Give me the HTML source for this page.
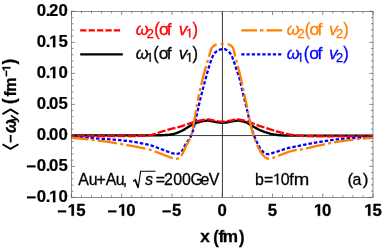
<!DOCTYPE html>
<html><head><meta charset="utf-8"><title>plot</title>
<style>
html,body{margin:0;padding:0;background:#fff;}
svg{display:block;font-family:"Liberation Sans", sans-serif;will-change:transform;}
text{font-family:"Liberation Sans", sans-serif;}
</style></head><body>
<svg width="382" height="248" viewBox="0 0 382 248">
<rect width="382" height="248" fill="#fff"/>
<clipPath id="c"><rect x="71.4" y="11.35" width="301.6" height="186.05"/></clipPath>
<g stroke="#222" stroke-width="0.9" fill="none">
<line x1="222.45" y1="11.35" x2="222.45" y2="197.4"/>
<line x1="71.4" y1="135.55" x2="373.0" y2="135.55"/>
</g>
<g clip-path="url(#c)" fill="none" stroke-width="2.3" stroke-linejoin="round">
<path d="M71.40,135.38 L72.66,135.38 L73.91,135.38 L75.17,135.38 L76.43,135.38 L77.68,135.38 L78.94,135.38 L80.20,135.38 L81.45,135.38 L82.71,135.38 L83.97,135.38 L85.22,135.38 L86.48,135.38 L87.74,135.38 L88.99,135.38 L90.25,135.38 L91.51,135.38 L92.76,135.38 L94.02,135.38 L95.28,135.38 L96.53,135.38 L97.79,135.38 L99.05,135.38 L100.30,135.38 L101.56,135.38 L102.82,135.38 L104.07,135.38 L105.33,135.38 L106.59,135.38 L107.84,135.38 L109.10,135.38 L110.36,135.38 L111.61,135.38 L112.87,135.38 L114.13,135.38 L115.38,135.38 L116.64,135.38 L117.90,135.38 L119.15,135.38 L120.41,135.38 L121.67,135.38 L122.92,135.38 L124.18,135.38 L125.44,135.38 L126.69,135.38 L127.95,135.38 L129.21,135.38 L130.46,135.38 L131.72,135.38 L132.98,135.38 L134.23,135.38 L135.49,135.38 L136.75,135.38 L138.00,135.38 L139.26,135.38 L140.52,135.38 L141.77,135.38 L143.03,135.38 L144.29,135.38 L145.54,135.38 L146.80,135.38 L148.06,135.37 L149.31,135.37 L150.57,135.36 L151.83,135.35 L153.08,135.35 L154.34,135.34 L155.60,135.33 L156.85,135.32 L158.11,135.31 L159.37,135.28 L160.62,135.25 L161.88,135.21 L163.14,135.17 L164.39,135.11 L165.65,135.05 L166.91,134.98 L168.16,134.86 L169.42,134.69 L170.68,134.49 L171.93,134.27 L173.19,134.01 L174.45,133.69 L175.70,133.32 L176.96,132.91 L178.22,132.47 L179.47,131.95 L180.73,131.38 L181.99,130.76 L183.24,130.11 L184.50,129.38 L185.76,128.60 L187.01,127.82 L188.27,127.03 L189.53,126.24 L190.78,125.52 L192.04,124.89 L193.30,124.28 L194.55,123.70 L195.81,123.16 L197.07,122.68 L198.32,122.27 L199.58,121.94 L200.84,121.64 L202.09,121.35 L203.35,121.09 L204.61,120.87 L205.86,120.71 L207.12,120.63 L208.38,120.65 L209.63,120.78 L210.89,121.00 L212.15,121.27 L213.40,121.54 L214.66,121.78 L215.92,121.98 L217.17,122.20 L218.43,122.42 L219.69,122.61 L220.94,122.74 L222.20,122.79 L223.46,122.75 L224.71,122.63 L225.97,122.46 L227.23,122.26 L228.48,122.06 L229.74,121.86 L231.00,121.65 L232.25,121.38 L233.51,121.11 L234.77,120.87 L236.02,120.69 L237.28,120.62 L238.54,120.67 L239.79,120.82 L241.05,121.04 L242.31,121.31 L243.56,121.63 L244.82,121.97 L246.08,122.36 L247.33,122.93 L248.59,123.64 L249.85,124.44 L251.10,125.26 L252.36,126.06 L253.62,126.77 L254.87,127.47 L256.13,128.16 L257.39,128.84 L258.64,129.48 L259.90,130.06 L261.16,130.60 L262.41,131.12 L263.67,131.60 L264.93,132.05 L266.18,132.45 L267.44,132.84 L268.70,133.22 L269.95,133.57 L271.21,133.89 L272.47,134.17 L273.72,134.40 L274.98,134.60 L276.24,134.78 L277.49,134.95 L278.75,135.10 L280.01,135.22 L281.26,135.31 L282.52,135.37 L283.78,135.43 L285.03,135.49 L286.29,135.54 L287.55,135.58 L288.80,135.61 L290.06,135.63 L291.32,135.63 L292.57,135.63 L293.83,135.63 L295.09,135.63 L296.34,135.63 L297.60,135.63 L298.86,135.63 L300.11,135.63 L301.37,135.63 L302.63,135.63 L303.88,135.63 L305.14,135.63 L306.40,135.63 L307.65,135.63 L308.91,135.63 L310.17,135.63 L311.42,135.63 L312.68,135.63 L313.94,135.63 L315.19,135.63 L316.45,135.63 L317.71,135.63 L318.96,135.63 L320.22,135.63 L321.48,135.63 L322.73,135.63 L323.99,135.63 L325.25,135.63 L326.50,135.63 L327.76,135.63 L329.02,135.63 L330.27,135.63 L331.53,135.63 L332.79,135.63 L334.04,135.63 L335.30,135.63 L336.56,135.63 L337.81,135.63 L339.07,135.63 L340.33,135.63 L341.58,135.63 L342.84,135.63 L344.10,135.63 L345.35,135.63 L346.61,135.63 L347.87,135.63 L349.12,135.63 L350.38,135.63 L351.64,135.63 L352.89,135.63 L354.15,135.63 L355.41,135.63 L356.66,135.63 L357.92,135.63 L359.18,135.63 L360.43,135.63 L361.69,135.63 L362.95,135.63 L364.20,135.63 L365.46,135.63 L366.72,135.63 L367.97,135.63 L369.23,135.63 L370.49,135.63 L371.74,135.63 L373.00,135.63" stroke="#000" stroke-width="2.4"/>
<path d="M71.40,136.07 L72.66,136.07 L73.91,136.07 L75.17,136.07 L76.43,136.07 L77.68,136.07 L78.94,136.07 L80.20,136.07 L81.45,136.07 L82.71,136.07 L83.97,136.07 L85.22,136.07 L86.48,136.07 L87.74,136.07 L88.99,136.07 L90.25,136.07 L91.51,136.07 L92.76,136.07 L94.02,136.07 L95.28,136.07 L96.53,136.07 L97.79,136.07 L99.05,136.07 L100.30,136.07 L101.56,136.07 L102.82,136.07 L104.07,136.07 L105.33,136.07 L106.59,136.07 L107.84,136.07 L109.10,136.07 L110.36,136.07 L111.61,136.07 L112.87,136.07 L114.13,136.06 L115.38,136.06 L116.64,136.06 L117.90,136.06 L119.15,136.06 L120.41,136.06 L121.67,136.06 L122.92,136.05 L124.18,136.05 L125.44,136.05 L126.69,136.04 L127.95,136.04 L129.21,136.04 L130.46,136.03 L131.72,136.03 L132.98,136.02 L134.23,136.02 L135.49,136.01 L136.75,136.00 L138.00,135.99 L139.26,135.97 L140.52,135.94 L141.77,135.90 L143.03,135.86 L144.29,135.80 L145.54,135.74 L146.80,135.66 L148.06,135.56 L149.31,135.37 L150.57,135.11 L151.83,134.80 L153.08,134.46 L154.34,134.13 L155.60,133.75 L156.85,133.32 L158.11,132.87 L159.37,132.42 L160.62,132.01 L161.88,131.62 L163.14,131.22 L164.39,130.83 L165.65,130.45 L166.91,130.08 L168.16,129.72 L169.42,129.38 L170.68,129.05 L171.93,128.74 L173.19,128.43 L174.45,128.13 L175.70,127.83 L176.96,127.51 L178.22,127.19 L179.47,126.84 L180.73,126.48 L181.99,126.08 L183.24,125.66 L184.50,125.22 L185.76,124.78 L187.01,124.34 L188.27,123.90 L189.53,123.48 L190.78,123.09 L192.04,122.71 L193.30,122.33 L194.55,121.96 L195.81,121.61 L197.07,121.28 L198.32,120.97 L199.58,120.71 L200.84,120.44 L202.09,120.17 L203.35,119.92 L204.61,119.70 L205.86,119.54 L207.12,119.45 L208.38,119.47 L209.63,119.61 L210.89,119.84 L212.15,120.12 L213.40,120.41 L214.66,120.66 L215.92,120.87 L217.17,121.10 L218.43,121.34 L219.69,121.54 L220.94,121.68 L222.20,121.74 L223.46,121.69 L224.71,121.57 L225.97,121.38 L227.23,121.17 L228.48,120.95 L229.74,120.75 L231.00,120.52 L232.25,120.24 L233.51,119.96 L234.77,119.70 L236.02,119.52 L237.28,119.45 L238.54,119.50 L239.79,119.65 L241.05,119.87 L242.31,120.14 L243.56,120.45 L244.82,120.75 L246.08,121.06 L247.33,121.43 L248.59,121.86 L249.85,122.32 L251.10,122.79 L252.36,123.27 L253.62,123.73 L254.87,124.19 L256.13,124.67 L257.39,125.15 L258.64,125.62 L259.90,126.06 L261.16,126.47 L262.41,126.87 L263.67,127.27 L264.93,127.66 L266.18,128.05 L267.44,128.46 L268.70,128.86 L269.95,129.26 L271.21,129.66 L272.47,130.05 L273.72,130.44 L274.98,130.81 L276.24,131.19 L277.49,131.56 L278.75,131.92 L280.01,132.27 L281.26,132.59 L282.52,132.90 L283.78,133.21 L285.03,133.51 L286.29,133.79 L287.55,134.07 L288.80,134.32 L290.06,134.55 L291.32,134.76 L292.57,134.95 L293.83,135.12 L295.09,135.28 L296.34,135.42 L297.60,135.53 L298.86,135.64 L300.11,135.74 L301.37,135.84 L302.63,135.93 L303.88,136.01 L305.14,136.08 L306.40,136.13 L307.65,136.17 L308.91,136.19 L310.17,136.20 L311.42,136.22 L312.68,136.23 L313.94,136.24 L315.19,136.25 L316.45,136.26 L317.71,136.27 L318.96,136.27 L320.22,136.28 L321.48,136.29 L322.73,136.29 L323.99,136.30 L325.25,136.30 L326.50,136.31 L327.76,136.31 L329.02,136.31 L330.27,136.31 L331.53,136.31 L332.79,136.31 L334.04,136.31 L335.30,136.31 L336.56,136.31 L337.81,136.31 L339.07,136.31 L340.33,136.31 L341.58,136.31 L342.84,136.31 L344.10,136.31 L345.35,136.31 L346.61,136.31 L347.87,136.31 L349.12,136.31 L350.38,136.31 L351.64,136.31 L352.89,136.31 L354.15,136.31 L355.41,136.31 L356.66,136.31 L357.92,136.31 L359.18,136.31 L360.43,136.31 L361.69,136.31 L362.95,136.31 L364.20,136.31 L365.46,136.31 L366.72,136.31 L367.97,136.31 L369.23,136.31 L370.49,136.31 L371.74,136.31 L373.00,136.31" stroke="#ff0000" stroke-dasharray="8.2 2.0" stroke-dashoffset="5.1"/>
<path d="M71.40,137.24 L72.66,137.29 L73.91,137.34 L75.17,137.39 L76.43,137.44 L77.68,137.49 L78.94,137.54 L80.20,137.60 L81.45,137.66 L82.71,137.72 L83.97,137.78 L85.22,137.85 L86.48,137.91 L87.74,137.98 L88.99,138.05 L90.25,138.12 L91.51,138.19 L92.76,138.26 L94.02,138.33 L95.28,138.41 L96.53,138.48 L97.79,138.56 L99.05,138.64 L100.30,138.72 L101.56,138.79 L102.82,138.87 L104.07,138.96 L105.33,139.04 L106.59,139.12 L107.84,139.21 L109.10,139.29 L110.36,139.38 L111.61,139.47 L112.87,139.57 L114.13,139.67 L115.38,139.77 L116.64,139.87 L117.90,139.98 L119.15,140.10 L120.41,140.22 L121.67,140.34 L122.92,140.47 L124.18,140.60 L125.44,140.74 L126.69,140.89 L127.95,141.04 L129.21,141.21 L130.46,141.38 L131.72,141.56 L132.98,141.75 L134.23,141.95 L135.49,142.15 L136.75,142.37 L138.00,142.59 L139.26,142.83 L140.52,143.07 L141.77,143.32 L143.03,143.57 L144.29,143.84 L145.54,144.12 L146.80,144.40 L148.06,144.69 L149.31,145.00 L150.57,145.32 L151.83,145.71 L153.08,146.14 L154.34,146.59 L155.60,147.03 L156.85,147.49 L158.11,147.96 L159.37,148.44 L160.62,148.93 L161.88,149.42 L163.14,149.91 L164.39,150.39 L165.65,150.86 L166.91,151.32 L168.16,151.80 L169.42,152.28 L170.68,152.73 L171.93,153.12 L173.19,153.42 L174.45,153.70 L175.70,153.86 L176.96,153.80 L178.22,153.56 L179.47,153.18 L180.73,152.36 L181.99,151.12 L183.24,148.96 L184.50,146.36 L185.76,144.00 L187.01,142.13 L188.27,140.44 L189.53,138.66 L190.78,136.51 L192.04,133.65 L193.30,129.67 L194.55,124.79 L195.81,119.29 L197.07,113.48 L198.32,107.65 L199.58,102.08 L200.84,97.03 L202.09,92.14 L203.35,87.30 L204.61,82.54 L205.86,77.87 L207.12,73.29 L208.38,68.86 L209.63,64.76 L210.89,60.99 L212.15,57.62 L213.40,54.79 L214.66,53.10 L215.92,51.86 L217.17,50.98 L218.43,50.25 L219.69,49.69 L220.94,49.36 L222.20,49.19 L223.46,49.08 L224.71,49.11 L225.97,49.59 L227.23,50.41 L228.48,51.37 L229.74,52.69 L231.00,54.50 L232.25,56.99 L233.51,60.54 L234.77,64.23 L236.02,68.16 L237.28,71.95 L238.54,75.38 L239.79,79.75 L241.05,84.85 L242.31,90.30 L243.56,95.72 L244.82,100.80 L246.08,105.99 L247.33,111.31 L248.59,116.60 L249.85,121.72 L251.10,126.51 L252.36,130.82 L253.62,134.49 L254.87,137.56 L256.13,140.45 L257.39,143.14 L258.64,145.59 L259.90,147.78 L261.16,149.65 L262.41,151.18 L263.67,152.37 L264.93,153.26 L266.18,153.78 L267.44,154.10 L268.70,154.05 L269.95,153.81 L271.21,153.45 L272.47,153.04 L273.72,152.63 L274.98,152.27 L276.24,151.89 L277.49,151.48 L278.75,151.06 L280.01,150.63 L281.26,150.20 L282.52,149.78 L283.78,149.36 L285.03,148.97 L286.29,148.61 L287.55,148.28 L288.80,147.96 L290.06,147.66 L291.32,147.37 L292.57,147.09 L293.83,146.82 L295.09,146.56 L296.34,146.30 L297.60,146.04 L298.86,145.79 L300.11,145.54 L301.37,145.29 L302.63,145.04 L303.88,144.79 L305.14,144.54 L306.40,144.29 L307.65,144.05 L308.91,143.81 L310.17,143.57 L311.42,143.33 L312.68,143.10 L313.94,142.87 L315.19,142.65 L316.45,142.43 L317.71,142.22 L318.96,142.01 L320.22,141.82 L321.48,141.62 L322.73,141.42 L323.99,141.22 L325.25,141.02 L326.50,140.83 L327.76,140.63 L329.02,140.44 L330.27,140.26 L331.53,140.08 L332.79,139.90 L334.04,139.73 L335.30,139.57 L336.56,139.41 L337.81,139.27 L339.07,139.13 L340.33,139.01 L341.58,138.90 L342.84,138.79 L344.10,138.70 L345.35,138.60 L346.61,138.51 L347.87,138.42 L349.12,138.33 L350.38,138.24 L351.64,138.15 L352.89,138.06 L354.15,137.98 L355.41,137.90 L356.66,137.82 L357.92,137.75 L359.18,137.68 L360.43,137.62 L361.69,137.55 L362.95,137.50 L364.20,137.45 L365.46,137.40 L366.72,137.36 L367.97,137.32 L369.23,137.29 L370.49,137.27 L371.74,137.25 L373.00,137.24" stroke="#0000ff" stroke-dasharray="3.5 2.0" stroke-dashoffset="2.8"/>
<path d="M71.40,137.86 L71.65,137.88 L71.90,137.90 L72.15,137.92 L72.41,137.94 L72.66,137.95 L72.91,137.97 L73.16,137.99 L73.41,138.01 L73.66,138.03 L73.91,138.05 L74.16,138.07 L74.42,138.09 L74.67,138.11 L74.92,138.13 L75.17,138.15 L75.42,138.17 L75.67,138.19 L75.92,138.21 L76.18,138.23 L76.43,138.25 L76.68,138.27 L76.93,138.29 L77.18,138.31 L77.43,138.33 L77.68,138.36 L77.93,138.38 L78.19,138.40 L78.44,138.42 L78.69,138.44 L78.94,138.47 L79.19,138.49 L79.44,138.51 L79.69,138.53 L79.95,138.56 L80.20,138.58 L80.45,138.60 L80.70,138.63 L80.95,138.65 L81.20,138.67 L81.45,138.70 L81.70,138.72 L81.96,138.75 L82.21,138.77 L82.46,138.79 L82.71,138.82 L82.96,138.84 L83.21,138.87 L83.46,138.89 L83.72,138.92 L83.97,138.94 L84.22,138.97 L84.47,138.99 L84.72,139.02 L84.97,139.04 L85.22,139.07 L85.47,139.10 L85.73,139.12 L85.98,139.15 L86.23,139.17 L86.48,139.20 L86.73,139.23 L86.98,139.25 L87.23,139.28 L87.49,139.31 L87.74,139.33 L87.99,139.36 L88.24,139.39 L88.49,139.42 L88.74,139.44 L88.99,139.47 L89.24,139.50 L89.50,139.53 L89.75,139.55 L90.00,139.58 L90.25,139.61 L90.50,139.64 L90.75,139.67 L91.00,139.69 L91.26,139.72 L91.51,139.75 L91.76,139.78 L92.01,139.81 L92.26,139.84 L92.51,139.87 L92.76,139.90 L93.01,139.92 L93.27,139.95 L93.52,139.98 L93.77,140.01 L94.02,140.04 L94.27,140.07 L94.52,140.10 L94.77,140.13 L95.03,140.16 L95.28,140.19 L95.53,140.22 L95.78,140.25 L96.03,140.28 L96.28,140.31 L96.53,140.34 L96.78,140.37 L97.04,140.40 L97.29,140.43 L97.54,140.46 L97.79,140.49 L98.04,140.53 L98.29,140.56 L98.54,140.59 L98.80,140.62 L99.05,140.65 L99.30,140.68 L99.55,140.71 L99.80,140.74 L100.05,140.77 L100.30,140.81 L100.55,140.84 L100.81,140.87 L101.06,140.90 L101.31,140.93 L101.56,140.96 L101.81,141.00 L102.06,141.03 L102.31,141.06 L102.57,141.09 L102.82,141.13 L103.07,141.16 L103.32,141.19 L103.57,141.23 L103.82,141.26 L104.07,141.30 L104.32,141.33 L104.58,141.37 L104.83,141.40 L105.08,141.44 L105.33,141.47 L105.58,141.51 L105.83,141.54 L106.08,141.58 L106.34,141.62 L106.59,141.65 L106.84,141.69 L107.09,141.73 L107.34,141.76 L107.59,141.80 L107.84,141.84 L108.09,141.88 L108.35,141.92 L108.60,141.95 L108.85,141.99 L109.10,142.03 L109.35,142.07 L109.60,142.11 L109.85,142.15 L110.11,142.19 L110.36,142.23 L110.61,142.27 L110.86,142.31 L111.11,142.35 L111.36,142.39 L111.61,142.43 L111.86,142.47 L112.12,142.51 L112.37,142.55 L112.62,142.59 L112.87,142.63 L113.12,142.67 L113.37,142.72 L113.62,142.76 L113.88,142.80 L114.13,142.84 L114.38,142.88 L114.63,142.93 L114.88,142.97 L115.13,143.01 L115.38,143.05 L115.63,143.10 L115.89,143.14 L116.14,143.18 L116.39,143.22 L116.64,143.27 L116.89,143.31 L117.14,143.35 L117.39,143.40 L117.65,143.44 L117.90,143.48 L118.15,143.53 L118.40,143.57 L118.65,143.62 L118.90,143.66 L119.15,143.70 L119.40,143.75 L119.66,143.79 L119.91,143.84 L120.16,143.88 L120.41,143.92 L120.66,143.97 L120.91,144.01 L121.16,144.06 L121.42,144.10 L121.67,144.15 L121.92,144.19 L122.17,144.24 L122.42,144.28 L122.67,144.33 L122.92,144.37 L123.17,144.42 L123.43,144.46 L123.68,144.51 L123.93,144.55 L124.18,144.60 L124.43,144.64 L124.68,144.69 L124.93,144.73 L125.19,144.78 L125.44,144.82 L125.69,144.87 L125.94,144.91 L126.19,144.95 L126.44,145.00 L126.69,145.04 L126.94,145.09 L127.20,145.13 L127.45,145.18 L127.70,145.22 L127.95,145.26 L128.20,145.31 L128.45,145.35 L128.70,145.40 L128.96,145.44 L129.21,145.49 L129.46,145.53 L129.71,145.57 L129.96,145.62 L130.21,145.66 L130.46,145.71 L130.71,145.75 L130.97,145.80 L131.22,145.84 L131.47,145.89 L131.72,145.93 L131.97,145.98 L132.22,146.02 L132.47,146.07 L132.73,146.11 L132.98,146.16 L133.23,146.20 L133.48,146.25 L133.73,146.29 L133.98,146.34 L134.23,146.38 L134.48,146.43 L134.74,146.48 L134.99,146.52 L135.24,146.57 L135.49,146.61 L135.74,146.66 L135.99,146.71 L136.24,146.76 L136.50,146.80 L136.75,146.85 L137.00,146.90 L137.25,146.95 L137.50,147.00 L137.75,147.04 L138.00,147.09 L138.25,147.14 L138.51,147.19 L138.76,147.24 L139.01,147.29 L139.26,147.34 L139.51,147.39 L139.76,147.44 L140.01,147.49 L140.27,147.54 L140.52,147.59 L140.77,147.65 L141.02,147.70 L141.27,147.75 L141.52,147.80 L141.77,147.86 L142.02,147.91 L142.28,147.96 L142.53,148.02 L142.78,148.07 L143.03,148.13 L143.28,148.18 L143.53,148.24 L143.78,148.29 L144.04,148.35 L144.29,148.41 L144.54,148.46 L144.79,148.52 L145.04,148.58 L145.29,148.64 L145.54,148.70 L145.79,148.76 L146.05,148.82 L146.30,148.88 L146.55,148.94 L146.80,149.00 L147.05,149.06 L147.30,149.12 L147.55,149.19 L147.81,149.25 L148.06,149.31 L148.31,149.38 L148.56,149.44 L148.81,149.51 L149.06,149.57 L149.31,149.64 L149.56,149.70 L149.82,149.77 L150.07,149.84 L150.32,149.91 L150.57,149.99 L150.82,150.06 L151.07,150.14 L151.32,150.22 L151.58,150.31 L151.83,150.39 L152.08,150.48 L152.33,150.56 L152.58,150.65 L152.83,150.74 L153.08,150.83 L153.33,150.92 L153.59,151.02 L153.84,151.11 L154.09,151.20 L154.34,151.29 L154.59,151.38 L154.84,151.48 L155.09,151.57 L155.35,151.66 L155.60,151.75 L155.85,151.84 L156.10,151.93 L156.35,152.02 L156.60,152.11 L156.85,152.21 L157.10,152.30 L157.36,152.39 L157.61,152.49 L157.86,152.58 L158.11,152.68 L158.36,152.77 L158.61,152.87 L158.86,152.96 L159.12,153.06 L159.37,153.15 L159.62,153.25 L159.87,153.35 L160.12,153.44 L160.37,153.54 L160.62,153.64 L160.87,153.74 L161.13,153.83 L161.38,153.93 L161.63,154.03 L161.88,154.13 L162.13,154.22 L162.38,154.32 L162.63,154.42 L162.89,154.51 L163.14,154.61 L163.39,154.71 L163.64,154.81 L163.89,154.90 L164.14,155.00 L164.39,155.09 L164.64,155.19 L164.90,155.28 L165.15,155.38 L165.40,155.47 L165.65,155.57 L165.90,155.66 L166.15,155.76 L166.40,155.85 L166.66,155.94 L166.91,156.04 L167.16,156.13 L167.41,156.23 L167.66,156.33 L167.91,156.43 L168.16,156.53 L168.41,156.63 L168.67,156.73 L168.92,156.83 L169.17,156.93 L169.42,157.02 L169.67,157.12 L169.92,157.22 L170.17,157.31 L170.43,157.41 L170.68,157.50 L170.93,157.59 L171.18,157.67 L171.43,157.76 L171.68,157.84 L171.93,157.92 L172.18,158.00 L172.44,158.07 L172.69,158.14 L172.94,158.21 L173.19,158.27 L173.44,158.34 L173.69,158.41 L173.94,158.48 L174.20,158.55 L174.45,158.61 L174.70,158.67 L174.95,158.72 L175.20,158.76 L175.45,158.80 L175.70,158.82 L175.95,158.83 L176.21,158.82 L176.46,158.80 L176.71,158.77 L176.96,158.73 L177.21,158.68 L177.46,158.62 L177.71,158.55 L177.97,158.48 L178.22,158.41 L178.47,158.33 L178.72,158.23 L178.97,158.10 L179.22,157.94 L179.47,157.75 L179.72,157.54 L179.98,157.31 L180.23,157.06 L180.48,156.80 L180.73,156.54 L180.98,156.24 L181.23,155.91 L181.48,155.53 L181.74,155.12 L181.99,154.69 L182.24,154.22 L182.49,153.73 L182.74,153.23 L182.99,152.70 L183.24,152.16 L183.49,151.61 L183.75,151.05 L184.00,150.48 L184.25,149.92 L184.50,149.36 L184.75,148.80 L185.00,148.25 L185.25,147.71 L185.51,147.19 L185.76,146.68 L186.01,146.19 L186.26,145.71 L186.51,145.24 L186.76,144.77 L187.01,144.32 L187.26,143.86 L187.52,143.41 L187.77,142.95 L188.02,142.49 L188.27,142.02 L188.52,141.54 L188.77,141.05 L189.02,140.54 L189.28,140.02 L189.53,139.47 L189.78,138.91 L190.03,138.32 L190.28,137.71 L190.53,137.06 L190.78,136.39 L191.03,135.68 L191.29,134.92 L191.54,134.08 L191.79,133.15 L192.04,132.14 L192.29,131.06 L192.54,129.91 L192.79,128.70 L193.05,127.43 L193.30,126.10 L193.55,124.74 L193.80,123.33 L194.05,121.89 L194.30,120.42 L194.55,118.92 L194.80,117.41 L195.06,115.89 L195.31,114.36 L195.56,112.83 L195.81,111.31 L196.06,109.80 L196.31,108.30 L196.56,106.83 L196.82,105.39 L197.07,103.98 L197.32,102.61 L197.57,101.28 L197.82,100.01" stroke="#ff8000" stroke-dasharray="19.5 3.3 3 3.2" stroke-dashoffset="2.6"/>
<path d="M222.20,43.78 L221.95,43.79 L221.70,43.79 L221.45,43.80 L221.19,43.81 L220.94,43.83 L220.69,43.85 L220.44,43.87 L220.19,43.90 L219.94,43.93 L219.69,43.96 L219.44,43.99 L219.18,44.03 L218.93,44.07 L218.68,44.11 L218.43,44.16 L218.18,44.21 L217.93,44.26 L217.68,44.31 L217.42,44.36 L217.17,44.42 L216.92,44.48 L216.67,44.54 L216.42,44.60 L216.17,44.66 L215.92,44.73 L215.67,44.80 L215.41,44.89 L215.16,45.00 L214.91,45.12 L214.66,45.25 L214.41,45.40 L214.16,45.57 L213.91,45.75 L213.65,45.95 L213.40,46.16 L213.15,46.39 L212.90,46.64 L212.65,46.90 L212.40,47.18 L212.15,47.47 L211.90,47.78 L211.64,48.11 L211.39,48.49 L211.14,49.04 L210.89,49.74 L210.64,50.56 L210.39,51.46 L210.14,52.41 L209.88,53.38 L209.63,54.32 L209.38,55.21 L209.13,56.05 L208.88,56.88 L208.63,57.71 L208.38,58.54 L208.13,59.37 L207.87,60.20 L207.62,61.03 L207.37,61.86 L207.12,62.70 L206.87,63.54 L206.62,64.38 L206.37,65.23 L206.11,66.08 L205.86,66.94 L205.61,67.81 L205.36,68.68 L205.11,69.57 L204.86,70.46 L204.61,71.36 L204.36,72.27 L204.10,73.20 L203.85,74.13 L203.60,75.08 L203.35,76.04 L203.10,77.01 L202.85,78.00 L202.60,79.00 L202.34,80.01 L202.09,81.03 L201.84,82.06 L201.59,83.10 L201.34,84.16 L201.09,85.22 L200.84,86.30 L200.59,87.39 L200.33,88.48 L200.08,89.59 L199.83,90.71 L199.58,91.83 L199.33,92.97 L199.08,94.12 L198.83,95.27 L198.57,96.44 L198.32,97.61 L198.07,98.79 L197.82,100.01" stroke="#ff8000" stroke-dasharray="1.5 4 15.5 3.4 3 3.4 19.5 3.2 3 3.3 19.5 3.2 3 3.3 19.5 3.2 3 3.3 19.5 3.2"/>
<path d="M222.20,43.78 L222.45,43.79 L222.70,43.79 L222.95,43.79 L223.21,43.80 L223.46,43.81 L223.71,43.82 L223.96,43.83 L224.21,43.85 L224.46,43.86 L224.71,43.88 L224.96,43.90 L225.22,43.92 L225.47,43.95 L225.72,43.97 L225.97,44.00 L226.22,44.03 L226.47,44.06 L226.72,44.09 L226.98,44.12 L227.23,44.16 L227.48,44.19 L227.73,44.23 L227.98,44.27 L228.23,44.31 L228.48,44.35 L228.73,44.41 L228.99,44.48 L229.24,44.57 L229.49,44.68 L229.74,44.80 L229.99,44.95 L230.24,45.11 L230.49,45.29 L230.75,45.48 L231.00,45.70 L231.25,45.93 L231.50,46.18 L231.75,46.44 L232.00,46.72 L232.25,47.02 L232.50,47.33 L232.76,47.66 L233.01,48.01 L233.26,48.52 L233.51,49.22 L233.76,50.08 L234.01,51.06 L234.26,52.12 L234.52,53.23 L234.77,54.36 L235.02,55.45 L235.27,56.48 L235.52,57.44 L235.77,58.38 L236.02,59.32 L236.27,60.26 L236.53,61.20 L236.78,62.14 L237.03,63.08 L237.28,64.02 L237.53,64.97 L237.78,65.92 L238.03,66.87 L238.29,67.83 L238.54,68.80 L238.79,69.77 L239.04,70.76 L239.29,71.75 L239.54,72.76 L239.79,73.78 L240.04,74.80 L240.30,75.85 L240.55,76.91 L240.80,77.99 L241.05,79.08 L241.30,80.19 L241.55,81.32 L241.80,82.46 L242.06,83.60 L242.31,84.76 L242.56,85.93 L242.81,87.10 L243.06,88.27 L243.31,89.45 L243.56,90.63 L243.81,91.81 L244.07,92.99 L244.32,94.16 L244.57,95.33 L244.82,96.49 L245.07,97.65 L245.32,98.79 L245.57,99.94 L245.83,101.11" stroke="#ff8000" stroke-dasharray="1.5 4 15.5 3.4 3 3.4 19.5 3.2 3 3.3 19.5 3.2 3 3.3 19.5 3.2 3 3.3 19.5 3.2"/>
<path d="M373.00,137.86 L372.75,137.88 L372.50,137.89 L372.25,137.91 L371.99,137.92 L371.74,137.94 L371.49,137.95 L371.24,137.97 L370.99,137.98 L370.74,138.00 L370.49,138.01 L370.24,138.03 L369.98,138.05 L369.73,138.07 L369.48,138.08 L369.23,138.10 L368.98,138.12 L368.73,138.14 L368.48,138.15 L368.22,138.17 L367.97,138.19 L367.72,138.21 L367.47,138.23 L367.22,138.25 L366.97,138.27 L366.72,138.29 L366.47,138.31 L366.21,138.33 L365.96,138.35 L365.71,138.37 L365.46,138.39 L365.21,138.41 L364.96,138.43 L364.71,138.45 L364.45,138.48 L364.20,138.50 L363.95,138.52 L363.70,138.54 L363.45,138.57 L363.20,138.59 L362.95,138.61 L362.70,138.64 L362.44,138.66 L362.19,138.68 L361.94,138.71 L361.69,138.73 L361.44,138.75 L361.19,138.78 L360.94,138.80 L360.68,138.83 L360.43,138.85 L360.18,138.88 L359.93,138.90 L359.68,138.93 L359.43,138.96 L359.18,138.98 L358.93,139.01 L358.67,139.03 L358.42,139.06 L358.17,139.09 L357.92,139.11 L357.67,139.14 L357.42,139.17 L357.17,139.19 L356.91,139.22 L356.66,139.25 L356.41,139.28 L356.16,139.31 L355.91,139.33 L355.66,139.36 L355.41,139.39 L355.16,139.42 L354.90,139.45 L354.65,139.48 L354.40,139.51 L354.15,139.53 L353.90,139.56 L353.65,139.59 L353.40,139.62 L353.14,139.65 L352.89,139.68 L352.64,139.71 L352.39,139.74 L352.14,139.77 L351.89,139.80 L351.64,139.83 L351.39,139.86 L351.13,139.89 L350.88,139.92 L350.63,139.96 L350.38,139.99 L350.13,140.02 L349.88,140.05 L349.63,140.08 L349.37,140.11 L349.12,140.14 L348.87,140.18 L348.62,140.21 L348.37,140.24 L348.12,140.27 L347.87,140.30 L347.62,140.34 L347.36,140.37 L347.11,140.40 L346.86,140.43 L346.61,140.47 L346.36,140.50 L346.11,140.53 L345.86,140.56 L345.60,140.60 L345.35,140.63 L345.10,140.66 L344.85,140.70 L344.60,140.73 L344.35,140.76 L344.10,140.80 L343.85,140.83 L343.59,140.86 L343.34,140.90 L343.09,140.93 L342.84,140.96 L342.59,141.00 L342.34,141.03 L342.09,141.07 L341.83,141.10 L341.58,141.14 L341.33,141.18 L341.08,141.21 L340.83,141.25 L340.58,141.29 L340.33,141.33 L340.08,141.37 L339.82,141.40 L339.57,141.44 L339.32,141.48 L339.07,141.52 L338.82,141.56 L338.57,141.61 L338.32,141.65 L338.06,141.69 L337.81,141.73 L337.56,141.77 L337.31,141.82 L337.06,141.86 L336.81,141.90 L336.56,141.95 L336.31,141.99 L336.05,142.04 L335.80,142.08 L335.55,142.13 L335.30,142.17 L335.05,142.22 L334.80,142.26 L334.55,142.31 L334.29,142.36 L334.04,142.40 L333.79,142.45 L333.54,142.50 L333.29,142.54 L333.04,142.59 L332.79,142.64 L332.54,142.69 L332.28,142.74 L332.03,142.79 L331.78,142.83 L331.53,142.88 L331.28,142.93 L331.03,142.98 L330.78,143.03 L330.52,143.08 L330.27,143.13 L330.02,143.18 L329.77,143.23 L329.52,143.28 L329.27,143.33 L329.02,143.39 L328.77,143.44 L328.51,143.49 L328.26,143.54 L328.01,143.59 L327.76,143.64 L327.51,143.69 L327.26,143.74 L327.01,143.80 L326.75,143.85 L326.50,143.90 L326.25,143.95 L326.00,144.00 L325.75,144.06 L325.50,144.11 L325.25,144.16 L325.00,144.21 L324.74,144.26 L324.49,144.32 L324.24,144.37 L323.99,144.42 L323.74,144.47 L323.49,144.53 L323.24,144.58 L322.98,144.63 L322.73,144.68 L322.48,144.74 L322.23,144.79 L321.98,144.84 L321.73,144.89 L321.48,144.94 L321.23,145.00 L320.97,145.05 L320.72,145.10 L320.47,145.15 L320.22,145.20 L319.97,145.25 L319.72,145.31 L319.47,145.36 L319.21,145.41 L318.96,145.46 L318.71,145.52 L318.46,145.57 L318.21,145.62 L317.96,145.68 L317.71,145.74 L317.46,145.79 L317.20,145.85 L316.95,145.90 L316.70,145.96 L316.45,146.02 L316.20,146.08 L315.95,146.14 L315.70,146.19 L315.44,146.25 L315.19,146.31 L314.94,146.37 L314.69,146.43 L314.44,146.49 L314.19,146.55 L313.94,146.61 L313.69,146.67 L313.43,146.73 L313.18,146.79 L312.93,146.85 L312.68,146.91 L312.43,146.97 L312.18,147.03 L311.93,147.09 L311.67,147.16 L311.42,147.22 L311.17,147.28 L310.92,147.34 L310.67,147.40 L310.42,147.46 L310.17,147.52 L309.92,147.58 L309.66,147.64 L309.41,147.70 L309.16,147.76 L308.91,147.82 L308.66,147.87 L308.41,147.93 L308.16,147.99 L307.90,148.05 L307.65,148.11 L307.40,148.16 L307.15,148.22 L306.90,148.28 L306.65,148.33 L306.40,148.39 L306.15,148.44 L305.89,148.50 L305.64,148.55 L305.39,148.60 L305.14,148.66 L304.89,148.71 L304.64,148.76 L304.39,148.81 L304.13,148.86 L303.88,148.91 L303.63,148.96 L303.38,149.01 L303.13,149.06 L302.88,149.10 L302.63,149.15 L302.38,149.20 L302.12,149.24 L301.87,149.28 L301.62,149.33 L301.37,149.37 L301.12,149.41 L300.87,149.45 L300.62,149.48 L300.36,149.52 L300.11,149.55 L299.86,149.59 L299.61,149.62 L299.36,149.66 L299.11,149.69 L298.86,149.72 L298.61,149.75 L298.35,149.78 L298.10,149.82 L297.85,149.85 L297.60,149.88 L297.35,149.91 L297.10,149.94 L296.85,149.98 L296.59,150.01 L296.34,150.04 L296.09,150.08 L295.84,150.12 L295.59,150.15 L295.34,150.19 L295.09,150.23 L294.84,150.27 L294.58,150.31 L294.33,150.36 L294.08,150.40 L293.83,150.45 L293.58,150.50 L293.33,150.55 L293.08,150.60 L292.82,150.66 L292.57,150.71 L292.32,150.77 L292.07,150.84 L291.82,150.90 L291.57,150.97 L291.32,151.04 L291.07,151.11 L290.81,151.19 L290.56,151.26 L290.31,151.34 L290.06,151.42 L289.81,151.50 L289.56,151.58 L289.31,151.66 L289.05,151.75 L288.80,151.84 L288.55,151.92 L288.30,152.01 L288.05,152.10 L287.80,152.20 L287.55,152.29 L287.30,152.38 L287.04,152.48 L286.79,152.57 L286.54,152.67 L286.29,152.76 L286.04,152.86 L285.79,152.96 L285.54,153.05 L285.28,153.15 L285.03,153.25 L284.78,153.35 L284.53,153.44 L284.28,153.54 L284.03,153.64 L283.78,153.74 L283.53,153.83 L283.27,153.93 L283.02,154.03 L282.77,154.12 L282.52,154.22 L282.27,154.31 L282.02,154.41 L281.77,154.50 L281.51,154.59 L281.26,154.69 L281.01,154.78 L280.76,154.87 L280.51,154.95 L280.26,155.04 L280.01,155.14 L279.76,155.23 L279.50,155.33 L279.25,155.43 L279.00,155.53 L278.75,155.63 L278.50,155.74 L278.25,155.84 L278.00,155.94 L277.74,156.05 L277.49,156.15 L277.24,156.26 L276.99,156.36 L276.74,156.47 L276.49,156.57 L276.24,156.68 L275.99,156.78 L275.73,156.88 L275.48,156.98 L275.23,157.07 L274.98,157.17 L274.73,157.26 L274.48,157.35 L274.23,157.43 L273.97,157.52 L273.72,157.60 L273.47,157.67 L273.22,157.75 L272.97,157.82 L272.72,157.88 L272.47,157.94 L272.22,157.99 L271.96,158.04 L271.71,158.09 L271.46,158.13 L271.21,158.18 L270.96,158.22 L270.71,158.27 L270.46,158.31 L270.20,158.35 L269.95,158.39 L269.70,158.42 L269.45,158.46 L269.20,158.49 L268.95,158.51 L268.70,158.54 L268.45,158.55 L268.19,158.57 L267.94,158.58 L267.69,158.58 L267.44,158.55 L267.19,158.47 L266.94,158.37 L266.69,158.24 L266.43,158.09 L266.18,157.92 L265.93,157.75 L265.68,157.57 L265.43,157.40 L265.18,157.23 L264.93,157.04 L264.68,156.84 L264.42,156.63 L264.17,156.40 L263.92,156.16 L263.67,155.91 L263.42,155.65 L263.17,155.38 L262.92,155.10 L262.66,154.80 L262.41,154.49 L262.16,154.18 L261.91,153.85 L261.66,153.51 L261.41,153.15 L261.16,152.78 L260.91,152.39 L260.65,152.00 L260.40,151.58 L260.15,151.16 L259.90,150.72 L259.65,150.27 L259.40,149.80 L259.15,149.32 L258.89,148.83 L258.64,148.33 L258.39,147.81 L258.14,147.29 L257.89,146.75 L257.64,146.19 L257.39,145.63 L257.14,145.05 L256.88,144.46 L256.63,143.86 L256.38,143.25 L256.13,142.63 L255.88,142.00 L255.63,141.35 L255.38,140.70 L255.12,140.03 L254.87,139.36 L254.62,138.67 L254.37,137.97 L254.12,137.27 L253.87,136.55 L253.62,135.82 L253.37,135.08 L253.11,134.31 L252.86,133.48 L252.61,132.61 L252.36,131.71 L252.11,130.76 L251.86,129.78 L251.61,128.77 L251.35,127.72 L251.10,126.64 L250.85,125.54 L250.60,124.41 L250.35,123.26 L250.10,122.09 L249.85,120.90 L249.60,119.69 L249.34,118.47 L249.09,117.24 L248.84,115.99 L248.59,114.74 L248.34,113.49 L248.09,112.23 L247.84,110.97 L247.58,109.71 L247.33,108.45 L247.08,107.20 L246.83,105.96 L246.58,104.73 L246.33,103.51 L246.08,102.30 L245.83,101.11" stroke="#ff8000" stroke-dasharray="19.5 3.2 3 3.2" stroke-dashoffset="9.3"/>
</g>
<g stroke="#505050" stroke-width="0.65" fill="none">
<rect x="71.4" y="11.35" width="301.6" height="186.05"/>
<line x1="71.40" y1="197.4" x2="71.40" y2="193.70000000000002"/>
<line x1="71.40" y1="11.35" x2="71.40" y2="15.05"/>
<line x1="81.45" y1="197.4" x2="81.45" y2="195.3"/>
<line x1="81.45" y1="11.35" x2="81.45" y2="13.45"/>
<line x1="91.51" y1="197.4" x2="91.51" y2="195.3"/>
<line x1="91.51" y1="11.35" x2="91.51" y2="13.45"/>
<line x1="101.56" y1="197.4" x2="101.56" y2="195.3"/>
<line x1="101.56" y1="11.35" x2="101.56" y2="13.45"/>
<line x1="111.61" y1="197.4" x2="111.61" y2="195.3"/>
<line x1="111.61" y1="11.35" x2="111.61" y2="13.45"/>
<line x1="121.67" y1="197.4" x2="121.67" y2="193.70000000000002"/>
<line x1="121.67" y1="11.35" x2="121.67" y2="15.05"/>
<line x1="131.72" y1="197.4" x2="131.72" y2="195.3"/>
<line x1="131.72" y1="11.35" x2="131.72" y2="13.45"/>
<line x1="141.77" y1="197.4" x2="141.77" y2="195.3"/>
<line x1="141.77" y1="11.35" x2="141.77" y2="13.45"/>
<line x1="151.83" y1="197.4" x2="151.83" y2="195.3"/>
<line x1="151.83" y1="11.35" x2="151.83" y2="13.45"/>
<line x1="161.88" y1="197.4" x2="161.88" y2="195.3"/>
<line x1="161.88" y1="11.35" x2="161.88" y2="13.45"/>
<line x1="171.93" y1="197.4" x2="171.93" y2="193.70000000000002"/>
<line x1="171.93" y1="11.35" x2="171.93" y2="15.05"/>
<line x1="181.99" y1="197.4" x2="181.99" y2="195.3"/>
<line x1="181.99" y1="11.35" x2="181.99" y2="13.45"/>
<line x1="192.04" y1="197.4" x2="192.04" y2="195.3"/>
<line x1="192.04" y1="11.35" x2="192.04" y2="13.45"/>
<line x1="202.09" y1="197.4" x2="202.09" y2="195.3"/>
<line x1="202.09" y1="11.35" x2="202.09" y2="13.45"/>
<line x1="212.15" y1="197.4" x2="212.15" y2="195.3"/>
<line x1="212.15" y1="11.35" x2="212.15" y2="13.45"/>
<line x1="222.20" y1="197.4" x2="222.20" y2="193.70000000000002"/>
<line x1="222.20" y1="11.35" x2="222.20" y2="15.05"/>
<line x1="232.25" y1="197.4" x2="232.25" y2="195.3"/>
<line x1="232.25" y1="11.35" x2="232.25" y2="13.45"/>
<line x1="242.31" y1="197.4" x2="242.31" y2="195.3"/>
<line x1="242.31" y1="11.35" x2="242.31" y2="13.45"/>
<line x1="252.36" y1="197.4" x2="252.36" y2="195.3"/>
<line x1="252.36" y1="11.35" x2="252.36" y2="13.45"/>
<line x1="262.41" y1="197.4" x2="262.41" y2="195.3"/>
<line x1="262.41" y1="11.35" x2="262.41" y2="13.45"/>
<line x1="272.47" y1="197.4" x2="272.47" y2="193.70000000000002"/>
<line x1="272.47" y1="11.35" x2="272.47" y2="15.05"/>
<line x1="282.52" y1="197.4" x2="282.52" y2="195.3"/>
<line x1="282.52" y1="11.35" x2="282.52" y2="13.45"/>
<line x1="292.57" y1="197.4" x2="292.57" y2="195.3"/>
<line x1="292.57" y1="11.35" x2="292.57" y2="13.45"/>
<line x1="302.63" y1="197.4" x2="302.63" y2="195.3"/>
<line x1="302.63" y1="11.35" x2="302.63" y2="13.45"/>
<line x1="312.68" y1="197.4" x2="312.68" y2="195.3"/>
<line x1="312.68" y1="11.35" x2="312.68" y2="13.45"/>
<line x1="322.73" y1="197.4" x2="322.73" y2="193.70000000000002"/>
<line x1="322.73" y1="11.35" x2="322.73" y2="15.05"/>
<line x1="332.79" y1="197.4" x2="332.79" y2="195.3"/>
<line x1="332.79" y1="11.35" x2="332.79" y2="13.45"/>
<line x1="342.84" y1="197.4" x2="342.84" y2="195.3"/>
<line x1="342.84" y1="11.35" x2="342.84" y2="13.45"/>
<line x1="352.89" y1="197.4" x2="352.89" y2="195.3"/>
<line x1="352.89" y1="11.35" x2="352.89" y2="13.45"/>
<line x1="362.95" y1="197.4" x2="362.95" y2="195.3"/>
<line x1="362.95" y1="11.35" x2="362.95" y2="13.45"/>
<line x1="373.00" y1="197.4" x2="373.00" y2="193.70000000000002"/>
<line x1="373.00" y1="11.35" x2="373.00" y2="15.05"/>
<line x1="71.4" y1="197.40" x2="75.10000000000001" y2="197.40"/>
<line x1="373.0" y1="197.40" x2="369.3" y2="197.40"/>
<line x1="71.4" y1="191.20" x2="73.5" y2="191.20"/>
<line x1="373.0" y1="191.20" x2="370.9" y2="191.20"/>
<line x1="71.4" y1="185.00" x2="73.5" y2="185.00"/>
<line x1="373.0" y1="185.00" x2="370.9" y2="185.00"/>
<line x1="71.4" y1="178.80" x2="73.5" y2="178.80"/>
<line x1="373.0" y1="178.80" x2="370.9" y2="178.80"/>
<line x1="71.4" y1="172.59" x2="73.5" y2="172.59"/>
<line x1="373.0" y1="172.59" x2="370.9" y2="172.59"/>
<line x1="71.4" y1="166.39" x2="75.10000000000001" y2="166.39"/>
<line x1="373.0" y1="166.39" x2="369.3" y2="166.39"/>
<line x1="71.4" y1="160.19" x2="73.5" y2="160.19"/>
<line x1="373.0" y1="160.19" x2="370.9" y2="160.19"/>
<line x1="71.4" y1="153.99" x2="73.5" y2="153.99"/>
<line x1="373.0" y1="153.99" x2="370.9" y2="153.99"/>
<line x1="71.4" y1="147.79" x2="73.5" y2="147.79"/>
<line x1="373.0" y1="147.79" x2="370.9" y2="147.79"/>
<line x1="71.4" y1="141.59" x2="73.5" y2="141.59"/>
<line x1="373.0" y1="141.59" x2="370.9" y2="141.59"/>
<line x1="71.4" y1="135.38" x2="75.10000000000001" y2="135.38"/>
<line x1="373.0" y1="135.38" x2="369.3" y2="135.38"/>
<line x1="71.4" y1="129.18" x2="73.5" y2="129.18"/>
<line x1="373.0" y1="129.18" x2="370.9" y2="129.18"/>
<line x1="71.4" y1="122.98" x2="73.5" y2="122.98"/>
<line x1="373.0" y1="122.98" x2="370.9" y2="122.98"/>
<line x1="71.4" y1="116.78" x2="73.5" y2="116.78"/>
<line x1="373.0" y1="116.78" x2="370.9" y2="116.78"/>
<line x1="71.4" y1="110.58" x2="73.5" y2="110.58"/>
<line x1="373.0" y1="110.58" x2="370.9" y2="110.58"/>
<line x1="71.4" y1="104.38" x2="75.10000000000001" y2="104.38"/>
<line x1="373.0" y1="104.38" x2="369.3" y2="104.38"/>
<line x1="71.4" y1="98.17" x2="73.5" y2="98.17"/>
<line x1="373.0" y1="98.17" x2="370.9" y2="98.17"/>
<line x1="71.4" y1="91.97" x2="73.5" y2="91.97"/>
<line x1="373.0" y1="91.97" x2="370.9" y2="91.97"/>
<line x1="71.4" y1="85.77" x2="73.5" y2="85.77"/>
<line x1="373.0" y1="85.77" x2="370.9" y2="85.77"/>
<line x1="71.4" y1="79.57" x2="73.5" y2="79.57"/>
<line x1="373.0" y1="79.57" x2="370.9" y2="79.57"/>
<line x1="71.4" y1="73.37" x2="75.10000000000001" y2="73.37"/>
<line x1="373.0" y1="73.37" x2="369.3" y2="73.37"/>
<line x1="71.4" y1="67.17" x2="73.5" y2="67.17"/>
<line x1="373.0" y1="67.17" x2="370.9" y2="67.17"/>
<line x1="71.4" y1="60.96" x2="73.5" y2="60.96"/>
<line x1="373.0" y1="60.96" x2="370.9" y2="60.96"/>
<line x1="71.4" y1="54.76" x2="73.5" y2="54.76"/>
<line x1="373.0" y1="54.76" x2="370.9" y2="54.76"/>
<line x1="71.4" y1="48.56" x2="73.5" y2="48.56"/>
<line x1="373.0" y1="48.56" x2="370.9" y2="48.56"/>
<line x1="71.4" y1="42.36" x2="75.10000000000001" y2="42.36"/>
<line x1="373.0" y1="42.36" x2="369.3" y2="42.36"/>
<line x1="71.4" y1="36.16" x2="73.5" y2="36.16"/>
<line x1="373.0" y1="36.16" x2="370.9" y2="36.16"/>
<line x1="71.4" y1="29.95" x2="73.5" y2="29.95"/>
<line x1="373.0" y1="29.95" x2="370.9" y2="29.95"/>
<line x1="71.4" y1="23.75" x2="73.5" y2="23.75"/>
<line x1="373.0" y1="23.75" x2="370.9" y2="23.75"/>
<line x1="71.4" y1="17.55" x2="73.5" y2="17.55"/>
<line x1="373.0" y1="17.55" x2="370.9" y2="17.55"/>
<line x1="71.4" y1="11.35" x2="75.10000000000001" y2="11.35"/>
<line x1="373.0" y1="11.35" x2="369.3" y2="11.35"/>
</g>
<g>
<text x="36.75" y="16.25" font-size="16.8" font-weight="bold" fill="#000" stroke="#000" stroke-width="0.2">0</text>
<text x="45.75" y="16.25" font-size="16.8" font-weight="bold" fill="#000" stroke="#000" stroke-width="0.2">.</text>
<text x="49.10" y="16.25" font-size="16.8" font-weight="bold" fill="#000" stroke="#000" stroke-width="0.2">2</text>
<text x="58.60" y="16.25" font-size="16.8" font-weight="bold" fill="#000" stroke="#000" stroke-width="0.2">0</text>
<text x="36.75" y="47.26" font-size="16.8" font-weight="bold" fill="#000" stroke="#000" stroke-width="0.2">0</text>
<text x="45.75" y="47.26" font-size="16.8" font-weight="bold" fill="#000" stroke="#000" stroke-width="0.2">.</text>
<path transform="translate(49.10,47.26) scale(0.00820,-0.00820)" d="M478 0V1170L140 959V1180L493 1409H759V0Z" fill="#000" stroke="#000" stroke-width="24.4"/>
<text x="58.60" y="47.26" font-size="16.8" font-weight="bold" fill="#000" stroke="#000" stroke-width="0.2">5</text>
<text x="36.75" y="78.27" font-size="16.8" font-weight="bold" fill="#000" stroke="#000" stroke-width="0.2">0</text>
<text x="45.75" y="78.27" font-size="16.8" font-weight="bold" fill="#000" stroke="#000" stroke-width="0.2">.</text>
<path transform="translate(49.10,78.27) scale(0.00820,-0.00820)" d="M478 0V1170L140 959V1180L493 1409H759V0Z" fill="#000" stroke="#000" stroke-width="24.4"/>
<text x="58.60" y="78.27" font-size="16.8" font-weight="bold" fill="#000" stroke="#000" stroke-width="0.2">0</text>
<text x="36.75" y="109.28" font-size="16.8" font-weight="bold" fill="#000" stroke="#000" stroke-width="0.2">0</text>
<text x="45.75" y="109.28" font-size="16.8" font-weight="bold" fill="#000" stroke="#000" stroke-width="0.2">.</text>
<text x="49.10" y="109.28" font-size="16.8" font-weight="bold" fill="#000" stroke="#000" stroke-width="0.2">0</text>
<text x="58.60" y="109.28" font-size="16.8" font-weight="bold" fill="#000" stroke="#000" stroke-width="0.2">5</text>
<text x="36.75" y="140.28" font-size="16.8" font-weight="bold" fill="#000" stroke="#000" stroke-width="0.2">0</text>
<text x="45.75" y="140.28" font-size="16.8" font-weight="bold" fill="#000" stroke="#000" stroke-width="0.2">.</text>
<text x="49.10" y="140.28" font-size="16.8" font-weight="bold" fill="#000" stroke="#000" stroke-width="0.2">0</text>
<text x="58.60" y="140.28" font-size="16.8" font-weight="bold" fill="#000" stroke="#000" stroke-width="0.2">0</text>
<text x="36.75" y="171.29" font-size="16.8" font-weight="bold" fill="#000" stroke="#000" stroke-width="0.2">0</text>
<text x="45.75" y="171.29" font-size="16.8" font-weight="bold" fill="#000" stroke="#000" stroke-width="0.2">.</text>
<text x="49.10" y="171.29" font-size="16.8" font-weight="bold" fill="#000" stroke="#000" stroke-width="0.2">0</text>
<text x="58.60" y="171.29" font-size="16.8" font-weight="bold" fill="#000" stroke="#000" stroke-width="0.2">5</text>
<rect x="26.9" y="165.34" width="8.7" height="2.1" fill="#000"/>
<text x="36.75" y="202.30" font-size="16.8" font-weight="bold" fill="#000" stroke="#000" stroke-width="0.2">0</text>
<text x="45.75" y="202.30" font-size="16.8" font-weight="bold" fill="#000" stroke="#000" stroke-width="0.2">.</text>
<path transform="translate(49.10,202.30) scale(0.00820,-0.00820)" d="M478 0V1170L140 959V1180L493 1409H759V0Z" fill="#000" stroke="#000" stroke-width="24.4"/>
<text x="58.60" y="202.30" font-size="16.8" font-weight="bold" fill="#000" stroke="#000" stroke-width="0.2">0</text>
<rect x="26.9" y="196.35" width="8.7" height="2.1" fill="#000"/>
<rect x="57.80" y="210.35" width="8.40" height="2.1" fill="#000"/>
<path transform="translate(67.65,215.80) scale(0.00820,-0.00820)" d="M478 0V1170L140 959V1180L493 1409H759V0Z" fill="#000" stroke="#000" stroke-width="34.1"/>
<text x="76.18" y="215.80" font-size="16.8" font-weight="bold" fill="#000" stroke="#000" stroke-width="0.28">5</text>
<rect x="108.07" y="210.35" width="8.40" height="2.1" fill="#000"/>
<path transform="translate(117.92,215.80) scale(0.00820,-0.00820)" d="M478 0V1170L140 959V1180L493 1409H759V0Z" fill="#000" stroke="#000" stroke-width="34.1"/>
<text x="126.30" y="215.80" font-size="16.8" font-weight="bold" fill="#000" stroke="#000" stroke-width="0.28">0</text>
<rect x="162.43" y="210.35" width="8.40" height="2.1" fill="#000"/>
<text x="171.92" y="215.80" font-size="16.8" font-weight="bold" fill="#000" stroke="#000" stroke-width="0.28">5</text>
<text x="217.44" y="215.80" font-size="16.8" font-weight="bold" fill="#000" stroke="#000" stroke-width="0.28">0</text>
<text x="267.85" y="215.80" font-size="16.8" font-weight="bold" fill="#000" stroke="#000" stroke-width="0.28">5</text>
<path transform="translate(313.88,215.80) scale(0.00820,-0.00820)" d="M478 0V1170L140 959V1180L493 1409H759V0Z" fill="#000" stroke="#000" stroke-width="34.1"/>
<text x="321.97" y="215.80" font-size="16.8" font-weight="bold" fill="#000" stroke="#000" stroke-width="0.28">0</text>
<path transform="translate(364.15,215.80) scale(0.00820,-0.00820)" d="M478 0V1170L140 959V1180L493 1409H759V0Z" fill="#000" stroke="#000" stroke-width="34.1"/>
<text x="372.38" y="215.80" font-size="16.8" font-weight="bold" fill="#000" stroke="#000" stroke-width="0.28">5</text>
</g>
<g font-weight="bold" font-size="16.1" fill="#000">
<text x="200.18" y="242.30" font-size="17.2" font-weight="bold" fill="#000" stroke="#000" stroke-width="0.28">x</text>
<text transform="translate(213.18,242.60) scale(0.92,1.0)" font-size="18.0" font-weight="bold" fill="#000" stroke="#000" stroke-width="0.28">(</text>
<text x="218.41" y="242.30" font-size="17.2" font-weight="bold" fill="#000" stroke="#000" stroke-width="0.28">f</text>
<text x="222.77" y="242.30" font-size="17.2" font-weight="bold" fill="#000" stroke="#000" stroke-width="0.28">m</text>
<text transform="translate(238.88,242.60) scale(0.92,1.0)" font-size="18.0" font-weight="bold" fill="#000" stroke="#000" stroke-width="0.28">)</text>
<g transform="translate(15.7,0) rotate(-90)">
<g transform="scale(1,1.14)"><text x="-133.04" y="0.00" font-size="16.4" font-weight="bold" font-style="italic" fill="#000" stroke="#000" stroke-width="0.28">ω</text></g>
<text x="-121.82" y="1.40" font-size="11.6" font-weight="bold" font-style="italic" fill="#000" stroke="#000" stroke-width="0.28">y</text>
<text transform="translate(-103.96,-0.30) scale(0.92,1.0)" font-size="18.8" font-weight="bold" fill="#000" stroke="#000" stroke-width="0.28">(</text>
<text x="-96.57" y="0.00" font-size="16.0" font-weight="bold" fill="#000" stroke="#000" stroke-width="0.28">f</text>
<text x="-91.75" y="0.00" font-size="16.0" font-weight="bold" fill="#000" stroke="#000" stroke-width="0.28">m</text>
<text x="-76.65" y="-5.30" font-size="10.8" font-weight="bold" fill="#000" stroke="#000" stroke-width="0.28">−</text>
<path transform="translate(-71.29,-5.30) scale(0.00566,-0.00566)" d="M478 0V1170L140 959V1180L493 1409H759V0Z" fill="#000" stroke="#000" stroke-width="49.4"/>
<text transform="translate(-64.52,-0.30) scale(0.92,1.0)" font-size="18.8" font-weight="bold" fill="#000" stroke="#000" stroke-width="0.28">)</text>
</g>
<rect x="9.75" y="135.0" width="1.8" height="7.4" fill="#000"/>
<path d="M2.5,144.3 L10.45,148.9 L18.4,144.3" fill="none" stroke="#000" stroke-width="1.9" stroke-linejoin="miter"/>
<path d="M2.5,114.1 L10.45,109.4 L18.4,114.1" fill="none" stroke="#000" stroke-width="1.9" stroke-linejoin="miter"/>
</g>
<g fill="none" stroke-width="2.2">
<line x1="80.2" y1="30.3" x2="121" y2="30.3" stroke="#ff0000" stroke-dasharray="6.3 2.1"/>
<line x1="80.2" y1="54.4" x2="122.8" y2="54.4" stroke="#000"/>
<line x1="241.3" y1="30.3" x2="283.8" y2="30.3" stroke="#ff8000" stroke-dasharray="15.7 3 3.5 3"/>
<line x1="241.3" y1="54.4" x2="281.5" y2="54.4" stroke="#0000ff" stroke-dasharray="3.2 2.06"/>
</g>
<text transform="translate(135.76,34.60) scale(1.0,1.06)" font-size="16.4" font-style="italic" fill="#ff0000" stroke="#ff0000" stroke-width="0.28">ω</text>
<text x="146.86" y="37.50" font-size="12.8" fill="#ff0000" stroke="#ff0000" stroke-width="0.28">2</text>
<text transform="translate(154.17,34.90) scale(0.9,1.0)" font-size="18.4" fill="#ff0000" stroke="#ff0000" stroke-width="0.28">(</text>
<text x="159.07" y="34.60" font-size="17.4" fill="#ff0000" stroke="#ff0000" stroke-width="0.28">o</text>
<text x="166.85" y="34.60" font-size="17.4" fill="#ff0000" stroke="#ff0000" stroke-width="0.28">f</text>
<text x="178.75" y="34.60" font-size="17.4" font-style="italic" fill="#ff0000" stroke="#ff0000" stroke-width="0.28">v</text>
<path transform="translate(185.97,37.50) scale(0.00625,-0.00625)" d="M515 0V1237L197 1010V1180L530 1409H696V0Z" fill="#ff0000" stroke="#ff0000" stroke-width="44.8"/>
<text transform="translate(192.50,34.90) scale(0.9,1.0)" font-size="18.4" fill="#ff0000" stroke="#ff0000" stroke-width="0.28">)</text>
<text transform="translate(135.76,58.80) scale(1.0,1.06)" font-size="16.4" font-style="italic" fill="#000" stroke="#000" stroke-width="0.28">ω</text>
<path transform="translate(146.37,61.70) scale(0.00625,-0.00625)" d="M515 0V1237L197 1010V1180L530 1409H696V0Z" fill="#000" stroke="#000" stroke-width="44.8"/>
<text transform="translate(153.27,59.10) scale(0.9,1.0)" font-size="18.4" fill="#000" stroke="#000" stroke-width="0.28">(</text>
<text x="158.77" y="58.80" font-size="17.4" fill="#000" stroke="#000" stroke-width="0.28">o</text>
<text x="166.85" y="58.80" font-size="17.4" fill="#000" stroke="#000" stroke-width="0.28">f</text>
<text x="178.75" y="58.80" font-size="17.4" font-style="italic" fill="#000" stroke="#000" stroke-width="0.28">v</text>
<path transform="translate(185.97,61.70) scale(0.00625,-0.00625)" d="M515 0V1237L197 1010V1180L530 1409H696V0Z" fill="#000" stroke="#000" stroke-width="44.8"/>
<text transform="translate(192.50,59.10) scale(0.9,1.0)" font-size="18.4" fill="#000" stroke="#000" stroke-width="0.28">)</text>
<text transform="translate(286.71,34.60) scale(1.0,1.06)" font-size="16.4" font-style="italic" fill="#ff8000" stroke="#ff8000" stroke-width="0.28">ω</text>
<text x="297.41" y="37.50" font-size="12.8" fill="#ff8000" stroke="#ff8000" stroke-width="0.28">2</text>
<text transform="translate(304.72,34.90) scale(0.9,1.0)" font-size="18.4" fill="#ff8000" stroke="#ff8000" stroke-width="0.28">(</text>
<text x="309.62" y="34.60" font-size="17.4" fill="#ff8000" stroke="#ff8000" stroke-width="0.28">o</text>
<text x="317.40" y="34.60" font-size="17.4" fill="#ff8000" stroke="#ff8000" stroke-width="0.28">f</text>
<text x="329.00" y="34.60" font-size="17.4" font-style="italic" fill="#ff8000" stroke="#ff8000" stroke-width="0.28">v</text>
<text x="335.91" y="37.50" font-size="12.8" fill="#ff8000" stroke="#ff8000" stroke-width="0.28">2</text>
<text transform="translate(343.35,34.90) scale(0.9,1.0)" font-size="18.4" fill="#ff8000" stroke="#ff8000" stroke-width="0.28">)</text>
<text transform="translate(286.71,58.80) scale(1.0,1.06)" font-size="16.4" font-style="italic" fill="#0000ff" stroke="#0000ff" stroke-width="0.28">ω</text>
<path transform="translate(296.92,61.70) scale(0.00625,-0.00625)" d="M515 0V1237L197 1010V1180L530 1409H696V0Z" fill="#0000ff" stroke="#0000ff" stroke-width="44.8"/>
<text transform="translate(303.82,59.10) scale(0.9,1.0)" font-size="18.4" fill="#0000ff" stroke="#0000ff" stroke-width="0.28">(</text>
<text x="309.32" y="58.80" font-size="17.4" fill="#0000ff" stroke="#0000ff" stroke-width="0.28">o</text>
<text x="317.40" y="58.80" font-size="17.4" fill="#0000ff" stroke="#0000ff" stroke-width="0.28">f</text>
<text x="329.00" y="58.80" font-size="17.4" font-style="italic" fill="#0000ff" stroke="#0000ff" stroke-width="0.28">v</text>
<text x="335.91" y="61.70" font-size="12.8" fill="#0000ff" stroke="#0000ff" stroke-width="0.28">2</text>
<text transform="translate(343.35,59.10) scale(0.9,1.0)" font-size="18.4" fill="#0000ff" stroke="#0000ff" stroke-width="0.28">)</text>
<text x="78.27" y="184.60" font-size="15.9" fill="#000" stroke="#000" stroke-width="0.28">A</text>
<text x="88.67" y="184.60" font-size="15.9" fill="#000" stroke="#000" stroke-width="0.28">u</text>
<text x="96.62" y="184.60" font-size="15.9" fill="#000" stroke="#000" stroke-width="0.28">+</text>
<text x="105.77" y="184.60" font-size="15.9" fill="#000" stroke="#000" stroke-width="0.28">A</text>
<text x="115.77" y="184.60" font-size="15.9" fill="#000" stroke="#000" stroke-width="0.28">u</text>
<text x="122.67" y="184.60" font-size="15.9" fill="#000" stroke="#000" stroke-width="0.28">,</text>
<path d="M133.2,181.2 L135.3,179.9 L138.2,187.6" fill="none" stroke="#000" stroke-width="1.7" stroke-linejoin="miter"/>
<path d="M138.2,187.6 L140.6,171.3 L155.5,171.3" fill="none" stroke="#000" stroke-width="1.1" stroke-linejoin="miter"/>
<text x="144.96" y="184.60" font-size="16.3" font-style="italic" fill="#000" stroke="#000" stroke-width="0.28">s</text>
<text x="155.72" y="184.60" font-size="15.9" fill="#000" stroke="#000" stroke-width="0.28">=</text>
<text x="164.00" y="184.60" font-size="15.9" fill="#000" stroke="#000" stroke-width="0.28">2</text>
<text x="173.28" y="184.60" font-size="15.9" fill="#000" stroke="#000" stroke-width="0.28">0</text>
<text x="181.88" y="184.60" font-size="15.9" fill="#000" stroke="#000" stroke-width="0.28">0</text>
<text x="190.40" y="184.60" font-size="15.9" fill="#000" stroke="#000" stroke-width="0.28">G</text>
<text x="200.42" y="184.60" font-size="15.9" fill="#000" stroke="#000" stroke-width="0.28">e</text>
<text x="208.63" y="184.60" font-size="15.9" fill="#000" stroke="#000" stroke-width="0.28">V</text>
<text x="254.98" y="184.60" font-size="15.9" fill="#000" stroke="#000" stroke-width="0.28">b</text>
<text x="264.02" y="184.60" font-size="15.9" fill="#000" stroke="#000" stroke-width="0.28">=</text>
<path transform="translate(272.87,184.60) scale(0.00776,-0.00776)" d="M515 0V1237L197 1010V1180L530 1409H696V0Z" fill="#000" stroke="#000" stroke-width="36.1"/>
<text x="280.68" y="184.60" font-size="15.9" fill="#000" stroke="#000" stroke-width="0.28">0</text>
<text x="289.37" y="184.60" font-size="15.9" fill="#000" stroke="#000" stroke-width="0.28">f</text>
<text transform="translate(293.86,184.60) scale(1.17,1.0)" font-size="15.9" fill="#000" stroke="#000" stroke-width="0.28">m</text>
<text x="347.43" y="184.70" font-size="17.2" fill="#000" stroke="#000" stroke-width="0.28">(</text>
<text x="362.80" y="184.70" font-size="17.2" fill="#000" stroke="#000" stroke-width="0.28">)</text>
<text x="352.62" y="184.60" font-size="15.9" fill="#000" stroke="#000" stroke-width="0.28">a</text>
</svg></body></html>
